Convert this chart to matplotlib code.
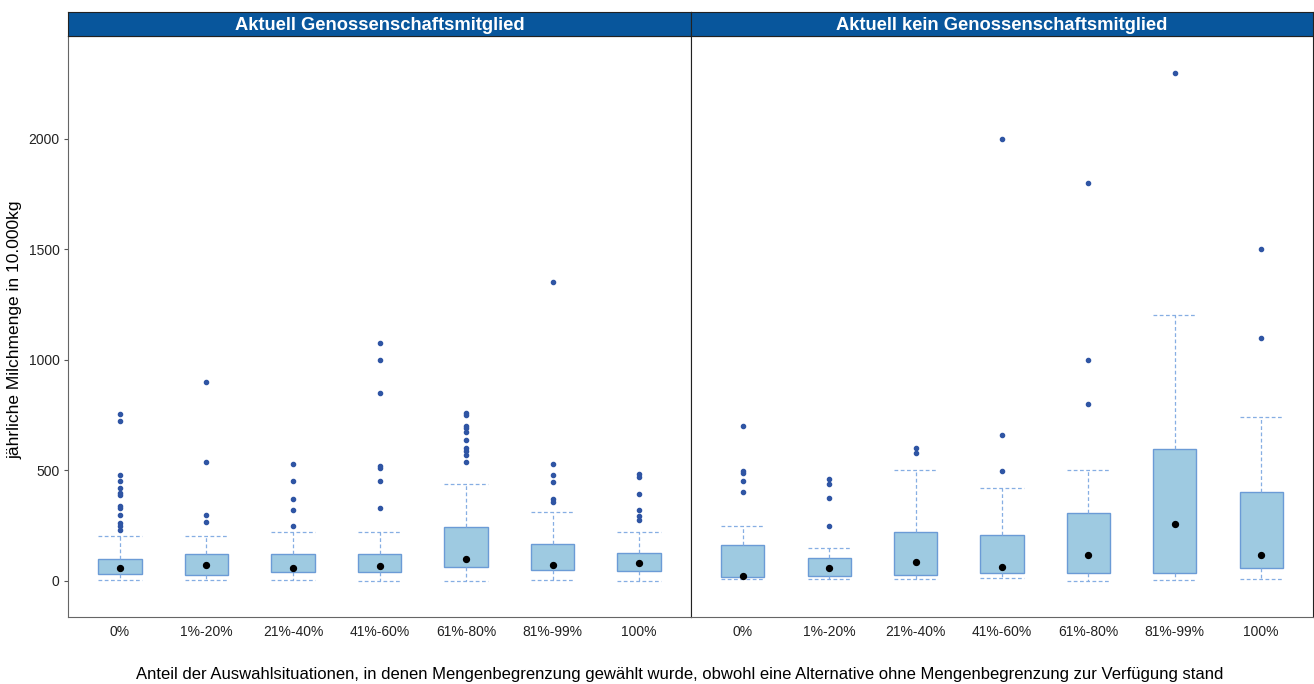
import numpy as np
import matplotlib.pyplot as plt

plt.rcParams['font.family'] = ['Liberation Sans', 'DejaVu Sans']

categories = ['0%', '1%-20%', '21%-40%', '41%-60%', '61%-80%', '81%-99%', '100%']
panel_titles = ['Aktuell Genossenschaftsmitglied', 'Aktuell kein Genossenschaftsmitglied']

# Aktuell Genossenschaftsmitglied
member_q1 = [33, 29, 42, 42, 65, 51, 47]
member_q3 = [100, 121, 121, 121, 244, 166, 125]
member_lo = [3, 3, 3, 0, 0, 6, 0]
member_hi = [202, 202, 220, 220, 439, 311, 220]
member_dot = [60, 72, 60, 69, 100, 72, 83]
member_out = [
    [754, 723, 480, 452, 422, 397, 388, 341, 329, 299, 264, 250, 231],
    [899, 540, 299, 265],
    [529, 451, 371, 320, 249],
    [1077, 1000, 849, 520, 511, 451, 330],
    [760, 750, 703, 691, 676, 637, 600, 588, 572, 540],
    [1353, 529, 480, 450, 371, 359],
    [484, 469, 392, 320, 294, 276],
]

# Aktuell kein Genossenschaftsmitglied
non_q1 = [17, 23, 29, 38, 38, 35, 60]
non_q3 = [161, 103, 220, 208, 306, 599, 403]
non_lo = [8, 8, 10, 15, 0, 3, 8]
non_hi = [247, 149, 501, 419, 501, 1204, 742]
non_dot = [24, 60, 87, 62, 119, 258, 119]
non_out = [
    [700, 499, 487, 451, 401],
    [460, 439, 374, 247],
    [600, 578],
    [2000, 659, 499],
    [1800, 1000, 800],
    [2300],
    [1500, 1100],
]

yticks = [0, 500, 1000, 1500, 2000]

box_fill = '#9ecae1'
box_edge = '#6b9bd6'
whisk_col = '#86aee3'
out_col = '#2f55a4'
strip_col = '#08569c'

fig = plt.figure(figsize=(13.14, 6.84), dpi=100)
W, H = 1314, 684
panels = [(68, 691), (691, 1313)]
top, bottom = 36, 617
groups = [
    (member_q1, member_q3, member_lo, member_hi, member_dot, member_out),
    (non_q1, non_q3, non_lo, non_hi, non_dot, non_out),
]

for i, ((x0, x1), (q1, q3, lo, hi, dot, outl)) in enumerate(zip(panels, groups)):
    ax = fig.add_axes([x0 / W, 1 - bottom / H, (x1 - x0) / W, (bottom - top) / H])
    stats = []
    for k in range(len(categories)):
        stats.append(dict(med=dot[k], q1=q1[k], q3=q3[k], whislo=lo[k],
                          whishi=hi[k], fliers=outl[k]))
    pos = np.arange(1, len(categories) + 1)
    ax.bxp(stats, positions=pos, widths=0.5, patch_artist=True,
           boxprops=dict(facecolor=box_fill, edgecolor=box_edge, linewidth=1.0),
           whiskerprops=dict(color=whisk_col, linestyle=(0, (3, 2)), linewidth=0.9),
           capprops=dict(color=whisk_col, linestyle=(0, (3, 2)), linewidth=0.9),
           capwidths=0.5,
           medianprops=dict(linewidth=0),
           flierprops=dict(marker='o', markersize=3.0, markerfacecolor=out_col,
                           markeredgecolor=out_col))
    ax.scatter(pos, dot, s=18, color='black', zorder=5)
    ax.set_xlim(0.4, 7.6)
    ax.set_ylim(-163, 2466)
    ax.set_xticks(pos)
    ax.set_xticklabels(categories, fontsize=10, color='#222222')
    ax.tick_params(axis='x', length=0, pad=6)
    ax.set_yticks(yticks)
    if i == 0:
        ax.set_yticklabels([str(v) for v in yticks], fontsize=10, color='#222222')
        ax.tick_params(axis='y', length=3, color='#555555', pad=3)
    else:
        ax.tick_params(axis='y', length=0, labelleft=False)
    for s in ax.spines.values():
        s.set_color('#222222')
        s.set_linewidth(0.8)
    ax.spines['bottom'].set_color('#666666')
    ax.spines['left'].set_color('#666666' if i == 0 else '#222222')

    sax = fig.add_axes([x0 / W, 1 - top / H, (x1 - x0) / W, 24 / H])
    sax.set_facecolor(strip_col)
    sax.set_xticks([])
    sax.set_yticks([])
    for s in sax.spines.values():
        s.set_color('#222222')
        s.set_linewidth(0.8)
    sax.text(0.5, 0.45, panel_titles[i], ha='center', va='center', color='white',
             fontsize=13.2, fontweight='bold', transform=sax.transAxes)

fig.text(15 / W, 1 - 330 / H, 'jährliche Milchmenge in 10.000kg', rotation=90,
         ha='center', va='center', fontsize=12.5)
fig.text(680 / W, 1 - 675 / H,
         'Anteil der Auswahlsituationen, in denen Mengenbegrenzung gewählt wurde, '
         'obwohl eine Alternative ohne Mengenbegrenzung zur Verfügung stand',
         ha='center', va='center', fontsize=12)

fig.savefig('out.png', dpi=100)
